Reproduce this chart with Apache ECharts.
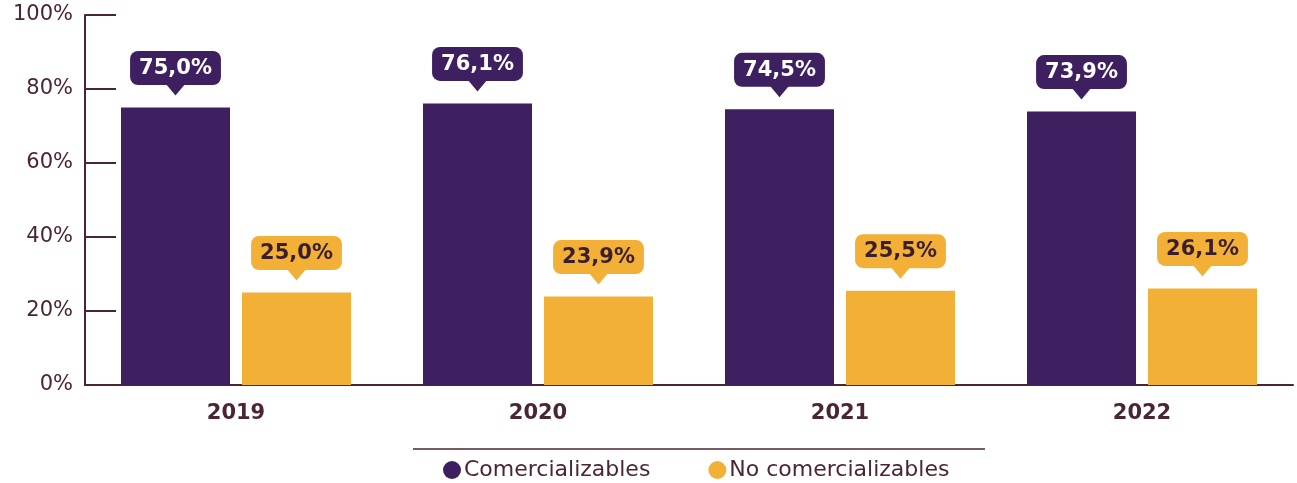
<!DOCTYPE html>
<html>
<head>
<meta charset="utf-8">
<script src="https://cdn.jsdelivr.net/npm/echarts@6/dist/echarts.min.js"></script>
<style>
html,body{margin:0;padding:0;background:#fff;}
#c{width:1297px;height:483px;}
</style>
</head>
<body>
<div id="c"></div>
<script>
const categories = ['2019', '2020', '2021', '2022'];
const comercializables = [75.0, 76.1, 74.5, 73.9];
const noComercializables = [25.0, 23.9, 25.5, 26.1];
const seriesNames = ['Comercializables', 'No comercializables'];

const PURPLE = '#3e1f5f';
const ORANGE = '#f3b037';
const DARK = '#4a2632';
const FONT = '"DejaVu Sans", "Noto Sans", sans-serif';
const BAR_W = 109;
const BAR_GAP_PX = 12;
const POINTER_GAP = 12;
const POINTER_H = 12;

function fmt(v) { return v.toFixed(1).replace('.', ',') + '%'; }

function calloutLabel(bg, fg) {
  return {
    show: true,
    position: 'top',
    distance: POINTER_GAP + POINTER_H + 4,
    formatter: p => '{b|' + fmt(p.value) + '}',
    rich: {
      b: {
        backgroundColor: bg, color: fg, fontSize: 21, fontWeight: 'bold',
        fontFamily: FONT, padding: [7, 9, 6, 9], borderRadius: 8, lineHeight: 23
      }
    }
  };
}

function pointerSeries(data, color, dx) {
  return {
    type: 'scatter', data: data, z: 5, silent: true,
    symbol: 'path://M0,0 L20,0 L10,12 Z',
    symbolSize: [20, POINTER_H],
    symbolOffset: [dx, -(POINTER_GAP + POINTER_H / 2)],
    itemStyle: { color: color, opacity: 1 },
    label: { show: false }
  };
}

const chart = echarts.init(document.getElementById('c'));
chart.setOption({
  animation: false,
  grid: { left: 85, right: 4, top: 15, bottom: 98 },
  legend: {
    top: 454, left: 438,
    icon: 'circle', itemWidth: 18, itemHeight: 18, itemGap: 58,
    textStyle: { fontSize: 22, color: DARK, fontFamily: FONT, padding: [0, 0, 0, -2] },
    data: seriesNames
  },
  graphic: [{
    type: 'line', shape: { x1: 413, y1: 449, x2: 985, y2: 449 },
    style: { stroke: DARK, lineWidth: 1.5 }
  }],
  xAxis: {
    type: 'category', data: categories,
    axisLine: { lineStyle: { color: DARK, width: 2 } },
    axisTick: { inside: true, length: 10, lineStyle: { color: DARK, width: 2 } },
    axisLabel: { color: DARK, fontSize: 21, fontWeight: 'bold', fontFamily: FONT, margin: 18 }
  },
  yAxis: {
    type: 'value', min: 0, max: 100, interval: 20,
    axisLine: { show: true, lineStyle: { color: DARK, width: 2 } },
    axisTick: { show: true, inside: true, length: 31, lineStyle: { color: DARK, width: 2 } },
    splitLine: { show: false },
    axisLabel: { color: DARK, fontSize: 21, fontFamily: FONT, margin: 12, formatter: '{value}%' }
  },
  series: [
    {
      name: seriesNames[0], type: 'bar', data: comercializables,
      barWidth: BAR_W, barGap: (BAR_GAP_PX / BAR_W * 100) + '%',
      itemStyle: { color: PURPLE },
      label: calloutLabel(PURPLE, '#ffffff')
    },
    {
      name: seriesNames[1], type: 'bar', data: noComercializables,
      barWidth: BAR_W,
      itemStyle: { color: ORANGE },
      label: calloutLabel(ORANGE, '#3a1e2c')
    },
    pointerSeries(comercializables, PURPLE, -(BAR_W + BAR_GAP_PX) / 2),
    pointerSeries(noComercializables, ORANGE, (BAR_W + BAR_GAP_PX) / 2)
  ]
});
</script>
</body>
</html>
